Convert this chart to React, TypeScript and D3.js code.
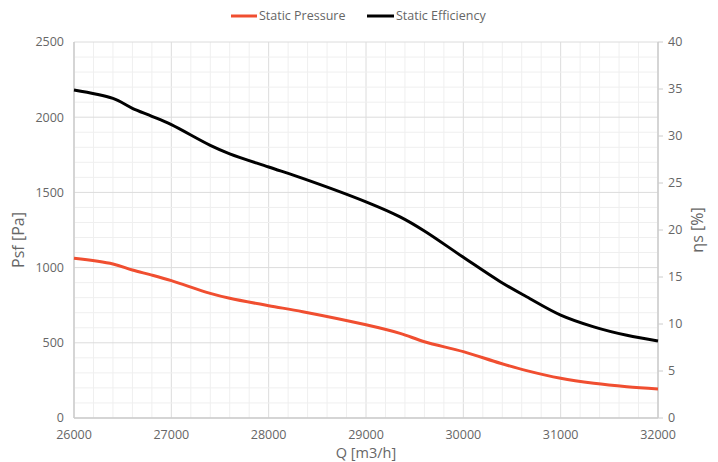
import React from "react";
import * as d3 from "d3";

const flow = [26000, 26400, 26600, 26800, 27000, 27400, 27600, 28000, 28350, 29000, 29350, 29600, 30000, 30380, 30650, 31000, 31340, 31680, 32000];
const pressure = [1062, 1024, 984, 950, 913, 829, 796, 747, 707, 620, 563, 507, 441, 364, 315, 264, 231, 208, 193];
const efficiency = [34.9, 34.0, 32.95, 32.1, 31.2, 29.0, 28.1, 26.7, 25.5, 23.0, 21.4, 19.9, 17.1, 14.5, 12.9, 10.95, 9.7, 8.8, 8.2];
const xTicks = [26000, 27000, 28000, 29000, 30000, 31000, 32000];
const leftTicks = [0, 500, 1000, 1500, 2000, 2500];
const rightTicks = [0, 5, 10, 15, 20, 25, 30, 35, 40];
const seriesNames = ["Static Pressure", "Static Efficiency"];

const W = 718, H = 462;
const M = { left: 74, right: 658, top: 42, bottom: 418 };
const RED = "#f04e30";
const FONT = "'Open Sans', sans-serif";
const TXT = "#666";

export default function App() {
  const x = d3.scaleLinear().domain([26000, 32000]).range([M.left, M.right]);
  const yL = d3.scaleLinear().domain([0, 2500]).range([M.bottom, M.top]);
  const yR = d3.scaleLinear().domain([0, 40]).range([M.bottom, M.top]);

  const pLine = d3.line<number>().x((_, i) => x(flow[i])).y((d) => yL(d)).curve(d3.curveCatmullRom.alpha(0.5));
  const eLine = d3.line<number>().x((_, i) => x(flow[i])).y((d) => yR(d)).curve(d3.curveCatmullRom.alpha(0.5));

  const minorX = d3.range(26000, 32001, 200);
  const minorY = d3.range(0, 2501, 100);

  return (
    <svg width={W} height={H} style={{ position: "absolute", left: 0, top: 0 }} fontFamily={FONT}>
      <rect width={W} height={H} fill="#fff" />
      {minorX.map((v) => (
        <line key={"mx" + v} x1={x(v)} x2={x(v)} y1={M.top} y2={M.bottom} stroke={v % 1000 === 0 ? "#dcdcdc" : "#efefef"} strokeWidth={1} />
      ))}
      {minorY.map((v) => (
        <line key={"my" + v} x1={M.left} x2={M.right} y1={yL(v)} y2={yL(v)} stroke={v % 500 === 0 ? "#dcdcdc" : "#efefef"} strokeWidth={1} />
      ))}
      <line x1={M.left} x2={M.left} y1={M.top} y2={M.bottom} stroke="#ccc" strokeWidth={1.5} />
      <line x1={M.left} x2={M.right} y1={M.bottom} y2={M.bottom} stroke="#ccc" strokeWidth={1.5} />
      <line x1={M.right} x2={M.right} y1={M.top} y2={M.bottom} stroke="#ccc" strokeWidth={1.5} />
      {rightTicks.map((v) => (
        <g key={"rt" + v}>
          <line x1={M.right} x2={M.right + 5} y1={yR(v)} y2={yR(v)} stroke="#ccc" strokeWidth={1} />
          <text x={M.right + 10} y={yR(v)} dy="0.35em" fontSize={12.5} fill={TXT}>{v}</text>
        </g>
      ))}
      {leftTicks.map((v) => (
        <text key={"lt" + v} x={M.left - 10} y={yL(v)} dy="0.35em" textAnchor="end" fontSize={12.5} fill={TXT}>{v}</text>
      ))}
      {xTicks.map((v) => (
        <text key={"xt" + v} x={x(v)} y={M.bottom + 20.8} textAnchor="middle" fontSize={12.5} fill={TXT}>{v}</text>
      ))}
      <text x={(M.left + M.right) / 2} y={458} textAnchor="middle" fontSize={14.5} fill={TXT}>Q [m3/h]</text>
      <text transform={`translate(24,240) rotate(-90)`} textAnchor="middle" fontSize={16} fill={TXT}>Psf [Pa]</text>
      <text transform={`translate(703,230) rotate(-90)`} textAnchor="middle" fontSize={16} fill={TXT}>ηs [%]</text>
      <path d={pLine(pressure) || ""} fill="none" stroke={RED} strokeWidth={3} strokeLinejoin="round" />
      <path d={eLine(efficiency) || ""} fill="none" stroke="#000" strokeWidth={3} strokeLinejoin="round" />
      <line x1={231} x2={257} y1={16} y2={16} stroke={RED} strokeWidth={3} />
      <text x={259} y={16} dy="0.35em" fontSize={12.5} fill={TXT}>{seriesNames[0]}</text>
      <line x1={367} x2={394} y1={16} y2={16} stroke="#000" strokeWidth={3} />
      <text x={396} y={16} dy="0.35em" fontSize={12.5} fill={TXT}>{seriesNames[1]}</text>
    </svg>
  );
}
